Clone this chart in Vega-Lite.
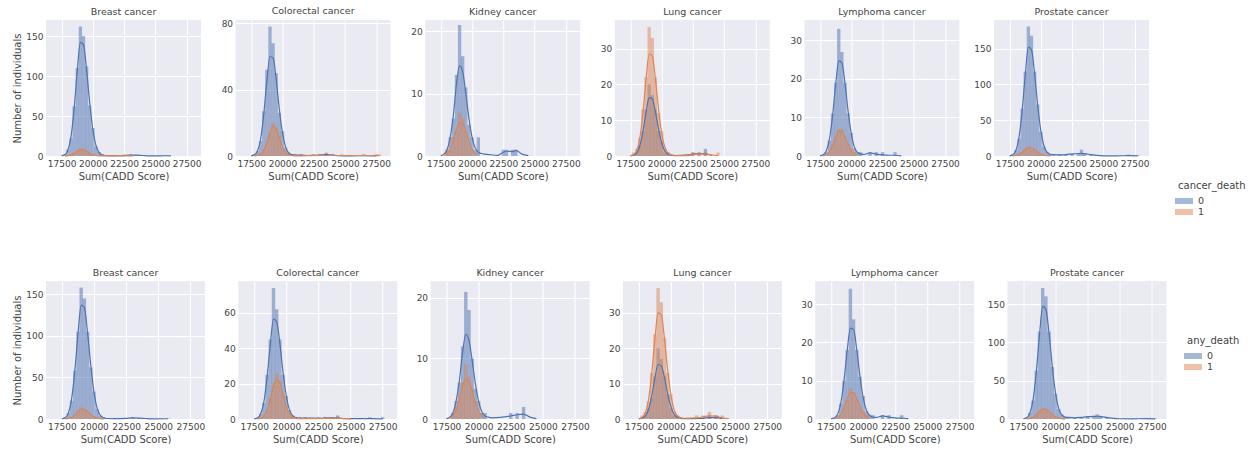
{
"$schema":"https://vega.github.io/schema/vega-lite/v6.json",
"background":"white",
"padding":{"left":12,"top":5,"right":0,"bottom":0},
"datasets":{
"a1":[{"g":0,"x":17500,"c":0,"k":0.3},{"g":0,"x":17750,"c":2,"k":1.6},{"g":0,"x":18000,"c":8,"k":7.2},{"g":0,"x":18250,"c":22,"k":24},{"g":0,"x":18500,"c":62,"k":59},{"g":0,"x":18750,"c":110,"k":106},{"g":0,"x":19000,"c":162,"k":142},{"g":0,"x":19250,"c":150,"k":139},{"g":0,"x":19500,"c":112,"k":107},{"g":0,"x":19750,"c":63,"k":66},{"g":0,"x":20000,"c":35,"k":33},{"g":0,"x":20250,"c":12,"k":13},{"g":0,"x":20500,"c":5,"k":4.3},{"g":0,"x":20750,"c":2,"k":1.4},{"g":0,"x":21000,"c":1,"k":0.6},{"g":0,"x":21500,"c":1,"k":0.5},{"g":0,"x":22000,"c":0,"k":0.3},{"g":0,"x":22500,"c":1,"k":0.8},{"g":0,"x":23000,"c":2,"k":1.2},{"g":0,"x":23500,"c":1,"k":1},{"g":0,"x":24000,"c":1,"k":0.6},{"g":0,"x":24500,"c":0,"k":0.2},{"g":0,"x":25000,"c":0,"k":0.1},{"g":0,"x":25750,"c":1,"k":0.3},{"g":0,"x":26250,"c":0,"k":0.05},
{"g":1,"x":17750,"c":0,"k":0.1},{"g":1,"x":18000,"c":1,"k":0.4},{"g":1,"x":18250,"c":2,"k":1.4},{"g":1,"x":18500,"c":4,"k":3.3},{"g":1,"x":18750,"c":7,"k":6},{"g":1,"x":19000,"c":10,"k":7.9},{"g":1,"x":19250,"c":9,"k":7.8},{"g":1,"x":19500,"c":6,"k":6},{"g":1,"x":19750,"c":4,"k":3.7},{"g":1,"x":20000,"c":2,"k":1.8},{"g":1,"x":20250,"c":1,"k":0.7},{"g":1,"x":20500,"c":0,"k":0.25},{"g":1,"x":20750,"c":0,"k":0.1},{"g":1,"x":23250,"c":1,"k":0.2}],
"a2":[{"g":0,"x":17500,"c":0,"k":0.1},{"g":0,"x":17750,"c":1,"k":0.7},{"g":0,"x":18000,"c":3,"k":3},{"g":0,"x":18250,"c":9,"k":10},{"g":0,"x":18500,"c":27,"k":25},{"g":0,"x":18750,"c":52,"k":45},{"g":0,"x":19000,"c":78,"k":60},{"g":0,"x":19250,"c":68,"k":59},{"g":0,"x":19500,"c":50,"k":46},{"g":0,"x":19750,"c":26,"k":28},{"g":0,"x":20000,"c":15,"k":14},{"g":0,"x":20250,"c":5,"k":5.5},{"g":0,"x":20500,"c":2,"k":1.8},{"g":0,"x":20750,"c":1,"k":0.8},{"g":0,"x":21000,"c":1,"k":0.5},{"g":0,"x":21500,"c":1,"k":0.5},{"g":0,"x":22000,"c":0,"k":0.3},{"g":0,"x":22500,"c":1,"k":0.4},{"g":0,"x":23000,"c":1,"k":0.5},{"g":0,"x":23500,"c":2,"k":0.8},{"g":0,"x":24000,"c":1,"k":0.6},{"g":0,"x":24500,"c":0,"k":0.2},{"g":0,"x":25500,"c":0,"k":0.1},{"g":0,"x":26500,"c":1,"k":0.2},{"g":0,"x":27500,"c":1,"k":0.1},
{"g":1,"x":17750,"c":0,"k":0.05},{"g":1,"x":18000,"c":1,"k":0.3},{"g":1,"x":18250,"c":1,"k":1.2},{"g":1,"x":18500,"c":4,"k":3.5},{"g":1,"x":18750,"c":8,"k":8},{"g":1,"x":19000,"c":14,"k":14},{"g":1,"x":19250,"c":20,"k":18},{"g":1,"x":19500,"c":17,"k":16.5},{"g":1,"x":19750,"c":12,"k":11},{"g":1,"x":20000,"c":5,"k":5.5},{"g":1,"x":20250,"c":2,"k":2.2},{"g":1,"x":20500,"c":1,"k":0.8},{"g":1,"x":20750,"c":0,"k":0.3},{"g":1,"x":21000,"c":0,"k":0.1},{"g":1,"x":23000,"c":1,"k":0.3},{"g":1,"x":24750,"c":1,"k":0.3},{"g":1,"x":27750,"c":1,"k":0.2}],
"a3":[{"g":0,"x":17500,"c":0,"k":0.05},{"g":0,"x":17750,"c":0,"k":0.3},{"g":0,"x":18000,"c":1,"k":1},{"g":0,"x":18250,"c":3,"k":3},{"g":0,"x":18500,"c":6,"k":6.5},{"g":0,"x":18750,"c":13,"k":11.5},{"g":0,"x":19000,"c":21,"k":14.5},{"g":0,"x":19250,"c":16,"k":13.5},{"g":0,"x":19500,"c":11,"k":10},{"g":0,"x":19750,"c":5,"k":6},{"g":0,"x":20000,"c":3,"k":3},{"g":0,"x":20250,"c":1,"k":1.3},{"g":0,"x":20500,"c":3,"k":0.6},{"g":0,"x":20750,"c":0,"k":0.4},{"g":0,"x":21000,"c":0,"k":0.3},{"g":0,"x":21500,"c":0,"k":0.2},{"g":0,"x":22000,"c":0,"k":0.1},{"g":0,"x":22500,"c":1,"k":0.6},{"g":0,"x":22750,"c":1,"k":0.8},{"g":0,"x":23250,"c":1,"k":0.7},{"g":0,"x":23500,"c":1,"k":0.9},{"g":0,"x":24000,"c":0,"k":0.3},{"g":0,"x":24500,"c":0,"k":0.05},
{"g":1,"x":17750,"c":0,"k":0.1},{"g":1,"x":18000,"c":1,"k":0.4},{"g":1,"x":18250,"c":1,"k":1.2},{"g":1,"x":18500,"c":3,"k":2.5},{"g":1,"x":18750,"c":4,"k":4.2},{"g":1,"x":19000,"c":7,"k":5.3},{"g":1,"x":19250,"c":6,"k":5.2},{"g":1,"x":19500,"c":4,"k":4},{"g":1,"x":19750,"c":2,"k":2.4},{"g":1,"x":20000,"c":1,"k":1.1},{"g":1,"x":20250,"c":0,"k":0.4},{"g":1,"x":20500,"c":0,"k":0.15}],
"a4":[{"g":0,"x":17500,"c":0,"k":0.05},{"g":0,"x":17750,"c":0,"k":0.2},{"g":0,"x":18000,"c":1,"k":0.8},{"g":0,"x":18250,"c":3,"k":2.8},{"g":0,"x":18500,"c":7,"k":6.8},{"g":0,"x":18750,"c":13,"k":12.2},{"g":0,"x":19000,"c":20,"k":16.3},{"g":0,"x":19250,"c":17,"k":16},{"g":0,"x":19500,"c":13,"k":12.3},{"g":0,"x":19750,"c":7,"k":7.5},{"g":0,"x":20000,"c":4,"k":3.7},{"g":0,"x":20250,"c":1,"k":1.4},{"g":0,"x":20500,"c":1,"k":0.5},{"g":0,"x":20750,"c":0,"k":0.2},{"g":0,"x":21000,"c":0,"k":0.1},{"g":0,"x":22500,"c":1,"k":0.5},{"g":0,"x":23000,"c":1,"k":0.7},{"g":0,"x":23500,"c":2,"k":0.6},{"g":0,"x":24000,"c":0,"k":0.2},
{"g":1,"x":17500,"c":0,"k":0.1},{"g":1,"x":17750,"c":1,"k":0.4},{"g":1,"x":18000,"c":2,"k":1.5},{"g":1,"x":18250,"c":5,"k":5},{"g":1,"x":18500,"c":13,"k":12},{"g":1,"x":18750,"c":22,"k":21.5},{"g":1,"x":19000,"c":36,"k":28.5},{"g":1,"x":19250,"c":33,"k":28},{"g":1,"x":19500,"c":22,"k":21.5},{"g":1,"x":19750,"c":12,"k":13},{"g":1,"x":20000,"c":7,"k":6.5},{"g":1,"x":20250,"c":2,"k":2.5},{"g":1,"x":20500,"c":1,"k":0.9},{"g":1,"x":20750,"c":0,"k":0.4},{"g":1,"x":21000,"c":0,"k":0.2},{"g":1,"x":22000,"c":0,"k":0.1},{"g":1,"x":22500,"c":1,"k":0.4},{"g":1,"x":23000,"c":1,"k":0.6},{"g":1,"x":23500,"c":1,"k":0.5},{"g":1,"x":24000,"c":0,"k":0.3},{"g":1,"x":24500,"c":1,"k":0.1}],
"a5":[{"g":0,"x":17500,"c":0,"k":0.1},{"g":0,"x":17750,"c":0,"k":0.3},{"g":0,"x":18000,"c":1,"k":1.3},{"g":0,"x":18250,"c":4,"k":4.3},{"g":0,"x":18500,"c":11,"k":10.3},{"g":0,"x":18750,"c":19,"k":18.5},{"g":0,"x":19000,"c":33,"k":24.7},{"g":0,"x":19250,"c":27,"k":24.2},{"g":0,"x":19500,"c":19,"k":18.8},{"g":0,"x":19750,"c":11,"k":11.5},{"g":0,"x":20000,"c":6,"k":5.8},{"g":0,"x":20250,"c":2,"k":2.3},{"g":0,"x":20500,"c":1,"k":0.9},{"g":0,"x":20750,"c":1,"k":0.5},{"g":0,"x":21000,"c":0,"k":0.4},{"g":0,"x":21500,"c":1,"k":0.8},{"g":0,"x":22000,"c":1,"k":0.5},{"g":0,"x":22500,"c":1,"k":0.3},{"g":0,"x":23000,"c":0,"k":0.2},{"g":0,"x":23500,"c":1,"k":0.2},{"g":0,"x":24000,"c":0,"k":0.05},
{"g":1,"x":17750,"c":0,"k":0.05},{"g":1,"x":18000,"c":0,"k":0.3},{"g":1,"x":18250,"c":1,"k":1.1},{"g":1,"x":18500,"c":3,"k":2.7},{"g":1,"x":18750,"c":5,"k":4.8},{"g":1,"x":19000,"c":7,"k":6.4},{"g":1,"x":19250,"c":7,"k":6.3},{"g":1,"x":19500,"c":5,"k":4.9},{"g":1,"x":19750,"c":3,"k":3},{"g":1,"x":20000,"c":2,"k":1.5},{"g":1,"x":20250,"c":1,"k":0.6},{"g":1,"x":20500,"c":0,"k":0.2}],
"a6":[{"g":0,"x":17500,"c":0,"k":0.3},{"g":0,"x":17750,"c":2,"k":1.7},{"g":0,"x":18000,"c":8,"k":7.7},{"g":0,"x":18250,"c":24,"k":26},{"g":0,"x":18500,"c":66,"k":63},{"g":0,"x":18750,"c":118,"k":113},{"g":0,"x":19000,"c":181,"k":152},{"g":0,"x":19250,"c":168,"k":148},{"g":0,"x":19500,"c":118,"k":115},{"g":0,"x":19750,"c":72,"k":70},{"g":0,"x":20000,"c":34,"k":35},{"g":0,"x":20250,"c":13,"k":14},{"g":0,"x":20500,"c":6,"k":5},{"g":0,"x":20750,"c":3,"k":2.5},{"g":0,"x":21000,"c":2,"k":2},{"g":0,"x":21500,"c":2,"k":1.5},{"g":0,"x":22000,"c":2,"k":2},{"g":0,"x":22500,"c":3,"k":3},{"g":0,"x":23000,"c":4,"k":3.5},{"g":0,"x":23250,"c":9,"k":3.6},{"g":0,"x":23500,"c":4,"k":3.2},{"g":0,"x":24000,"c":2,"k":2},{"g":0,"x":24500,"c":1,"k":0.8},{"g":0,"x":25000,"c":0,"k":0.3},{"g":0,"x":26000,"c":0,"k":0.2},{"g":0,"x":27000,"c":2,"k":0.5},{"g":0,"x":27750,"c":1,"k":0.3},
{"g":1,"x":17750,"c":0,"k":0.2},{"g":1,"x":18000,"c":1,"k":0.7},{"g":1,"x":18250,"c":2,"k":2},{"g":1,"x":18500,"c":5,"k":5},{"g":1,"x":18750,"c":10,"k":9},{"g":1,"x":19000,"c":13,"k":11.8},{"g":1,"x":19250,"c":12,"k":11.5},{"g":1,"x":19500,"c":9,"k":9},{"g":1,"x":19750,"c":5,"k":5.5},{"g":1,"x":20000,"c":3,"k":2.7},{"g":1,"x":20250,"c":1,"k":1.1},{"g":1,"x":20500,"c":0,"k":0.4},{"g":1,"x":20750,"c":0,"k":0.1}],
"b1":[{"g":0,"x":17500,"c":0,"k":0.3},{"g":0,"x":17750,"c":2,"k":1.5},{"g":0,"x":18000,"c":7,"k":7},{"g":0,"x":18250,"c":22,"k":23.5},{"g":0,"x":18500,"c":58,"k":57},{"g":0,"x":18750,"c":105,"k":102},{"g":0,"x":19000,"c":158,"k":137},{"g":0,"x":19250,"c":145,"k":134},{"g":0,"x":19500,"c":105,"k":103},{"g":0,"x":19750,"c":62,"k":64},{"g":0,"x":20000,"c":33,"k":32},{"g":0,"x":20250,"c":12,"k":12.5},{"g":0,"x":20500,"c":4,"k":4.2},{"g":0,"x":20750,"c":2,"k":1.5},{"g":0,"x":21000,"c":1,"k":0.6},{"g":0,"x":21500,"c":1,"k":0.5},{"g":0,"x":22500,"c":1,"k":0.8},{"g":0,"x":23000,"c":2,"k":1.3},{"g":0,"x":23500,"c":1,"k":1.1},{"g":0,"x":24000,"c":1,"k":0.6},{"g":0,"x":24500,"c":0,"k":0.2},{"g":0,"x":25750,"c":1,"k":0.3},
{"g":1,"x":17750,"c":0,"k":0.2},{"g":1,"x":18000,"c":1,"k":0.7},{"g":1,"x":18250,"c":2,"k":2},{"g":1,"x":18500,"c":5,"k":5},{"g":1,"x":18750,"c":10,"k":9.2},{"g":1,"x":19000,"c":14,"k":12},{"g":1,"x":19250,"c":12,"k":11.5},{"g":1,"x":19500,"c":9,"k":8.8},{"g":1,"x":19750,"c":5,"k":5.4},{"g":1,"x":20000,"c":3,"k":2.7},{"g":1,"x":20250,"c":1,"k":1.1},{"g":1,"x":20500,"c":0,"k":0.4},{"g":1,"x":20750,"c":0,"k":0.1}],
"b2":[{"g":0,"x":17500,"c":0,"k":0.1},{"g":0,"x":17750,"c":1,"k":0.6},{"g":0,"x":18000,"c":3,"k":2.8},{"g":0,"x":18250,"c":9,"k":9.5},{"g":0,"x":18500,"c":25,"k":23.5},{"g":0,"x":18750,"c":45,"k":42},{"g":0,"x":19000,"c":74,"k":56.5},{"g":0,"x":19250,"c":62,"k":55},{"g":0,"x":19500,"c":45,"k":42.5},{"g":0,"x":19750,"c":25,"k":26},{"g":0,"x":20000,"c":13,"k":13},{"g":0,"x":20250,"c":5,"k":5},{"g":0,"x":20500,"c":2,"k":1.8},{"g":0,"x":20750,"c":1,"k":0.8},{"g":0,"x":21000,"c":1,"k":0.5},{"g":0,"x":21500,"c":1,"k":0.5},{"g":0,"x":22500,"c":1,"k":0.4},{"g":0,"x":23000,"c":1,"k":0.5},{"g":0,"x":23500,"c":1,"k":0.7},{"g":0,"x":24000,"c":2,"k":0.6},{"g":0,"x":24500,"c":0,"k":0.2},{"g":0,"x":26500,"c":1,"k":0.2},{"g":0,"x":27500,"c":1,"k":0.1},
{"g":1,"x":17750,"c":0,"k":0.1},{"g":1,"x":18000,"c":1,"k":0.5},{"g":1,"x":18250,"c":2,"k":1.8},{"g":1,"x":18500,"c":5,"k":5},{"g":1,"x":18750,"c":12,"k":11},{"g":1,"x":19000,"c":20,"k":18.5},{"g":1,"x":19250,"c":26,"k":22.5},{"g":1,"x":19500,"c":21,"k":20.5},{"g":1,"x":19750,"c":14,"k":14},{"g":1,"x":20000,"c":7,"k":7},{"g":1,"x":20250,"c":3,"k":2.8},{"g":1,"x":20500,"c":1,"k":1},{"g":1,"x":20750,"c":0,"k":0.4},{"g":1,"x":21000,"c":0,"k":0.2},{"g":1,"x":23000,"c":1,"k":0.3},{"g":1,"x":24000,"c":1,"k":0.3},{"g":1,"x":25000,"c":0,"k":0.1}],
"b3":[{"g":0,"x":17500,"c":0,"k":0.05},{"g":0,"x":17750,"c":0,"k":0.3},{"g":0,"x":18000,"c":1,"k":1},{"g":0,"x":18250,"c":3,"k":3},{"g":0,"x":18500,"c":6,"k":6.3},{"g":0,"x":18750,"c":12,"k":11},{"g":0,"x":19000,"c":21,"k":14},{"g":0,"x":19250,"c":18,"k":13},{"g":0,"x":19500,"c":10,"k":9.6},{"g":0,"x":19750,"c":5,"k":5.8},{"g":0,"x":20000,"c":3,"k":2.9},{"g":0,"x":20250,"c":1,"k":1.2},{"g":0,"x":20500,"c":1,"k":0.5},{"g":0,"x":20750,"c":0,"k":0.3},{"g":0,"x":21000,"c":0,"k":0.2},{"g":0,"x":22500,"c":1,"k":0.5},{"g":0,"x":23000,"c":1,"k":0.7},{"g":0,"x":23500,"c":2,"k":0.8},{"g":0,"x":24000,"c":0,"k":0.3},{"g":0,"x":24500,"c":0,"k":0.05},
{"g":1,"x":17750,"c":0,"k":0.1},{"g":1,"x":18000,"c":1,"k":0.5},{"g":1,"x":18250,"c":2,"k":1.5},{"g":1,"x":18500,"c":4,"k":3.3},{"g":1,"x":18750,"c":6,"k":5.4},{"g":1,"x":19000,"c":9,"k":6.6},{"g":1,"x":19250,"c":7,"k":6.2},{"g":1,"x":19500,"c":5,"k":4.6},{"g":1,"x":19750,"c":3,"k":2.7},{"g":1,"x":20000,"c":1,"k":1.3},{"g":1,"x":20250,"c":0,"k":0.5},{"g":1,"x":20500,"c":0,"k":0.2}],
"b4":[{"g":0,"x":17500,"c":0,"k":0.05},{"g":0,"x":17750,"c":0,"k":0.2},{"g":0,"x":18000,"c":1,"k":0.8},{"g":0,"x":18250,"c":3,"k":2.6},{"g":0,"x":18500,"c":6,"k":6.4},{"g":0,"x":18750,"c":12,"k":11.5},{"g":0,"x":19000,"c":20,"k":15.4},{"g":0,"x":19250,"c":17,"k":15},{"g":0,"x":19500,"c":12,"k":11.6},{"g":0,"x":19750,"c":7,"k":7},{"g":0,"x":20000,"c":3,"k":3.5},{"g":0,"x":20250,"c":1,"k":1.3},{"g":0,"x":20500,"c":1,"k":0.5},{"g":0,"x":20750,"c":0,"k":0.2},{"g":0,"x":21000,"c":0,"k":0.1},{"g":0,"x":22500,"c":0,"k":0.2},{"g":0,"x":23000,"c":1,"k":0.4},{"g":0,"x":23500,"c":1,"k":0.4},{"g":0,"x":24000,"c":0,"k":0.1},
{"g":1,"x":17500,"c":0,"k":0.1},{"g":1,"x":17750,"c":1,"k":0.5},{"g":1,"x":18000,"c":2,"k":1.7},{"g":1,"x":18250,"c":5,"k":5.3},{"g":1,"x":18500,"c":13,"k":12.6},{"g":1,"x":18750,"c":24,"k":22.5},{"g":1,"x":19000,"c":37,"k":30},{"g":1,"x":19250,"c":33,"k":29.5},{"g":1,"x":19500,"c":23,"k":22.5},{"g":1,"x":19750,"c":13,"k":13.7},{"g":1,"x":20000,"c":7,"k":6.8},{"g":1,"x":20250,"c":2,"k":2.6},{"g":1,"x":20500,"c":1,"k":0.9},{"g":1,"x":20750,"c":0,"k":0.4},{"g":1,"x":21000,"c":0,"k":0.2},{"g":1,"x":22000,"c":1,"k":0.3},{"g":1,"x":22500,"c":1,"k":0.6},{"g":1,"x":23000,"c":2,"k":0.9},{"g":1,"x":23500,"c":1,"k":0.8},{"g":1,"x":24000,"c":1,"k":0.3},{"g":1,"x":24500,"c":0,"k":0.1}],
"b5":[{"g":0,"x":17500,"c":0,"k":0.1},{"g":0,"x":17750,"c":0,"k":0.3},{"g":0,"x":18000,"c":1,"k":1.2},{"g":0,"x":18250,"c":4,"k":4.1},{"g":0,"x":18500,"c":10,"k":9.9},{"g":0,"x":18750,"c":18,"k":17.8},{"g":0,"x":19000,"c":34,"k":23.7},{"g":0,"x":19250,"c":26,"k":23.3},{"g":0,"x":19500,"c":18,"k":18},{"g":0,"x":19750,"c":11,"k":11},{"g":0,"x":20000,"c":6,"k":5.5},{"g":0,"x":20250,"c":2,"k":2.2},{"g":0,"x":20500,"c":1,"k":0.9},{"g":0,"x":20750,"c":1,"k":0.5},{"g":0,"x":21000,"c":0,"k":0.4},{"g":0,"x":21500,"c":1,"k":0.8},{"g":0,"x":22000,"c":1,"k":0.5},{"g":0,"x":22500,"c":0,"k":0.3},{"g":0,"x":23000,"c":1,"k":0.2},{"g":0,"x":23500,"c":0,"k":0.1},
{"g":1,"x":17750,"c":0,"k":0.05},{"g":1,"x":18000,"c":0,"k":0.3},{"g":1,"x":18250,"c":1,"k":1.2},{"g":1,"x":18500,"c":3,"k":2.9},{"g":1,"x":18750,"c":5,"k":5.2},{"g":1,"x":19000,"c":8,"k":6.9},{"g":1,"x":19250,"c":7,"k":6.8},{"g":1,"x":19500,"c":5,"k":5.3},{"g":1,"x":19750,"c":3,"k":3.2},{"g":1,"x":20000,"c":2,"k":1.6},{"g":1,"x":20250,"c":1,"k":0.6},{"g":1,"x":20500,"c":0,"k":0.2}],
"b6":[{"g":0,"x":17500,"c":0,"k":0.3},{"g":0,"x":17750,"c":2,"k":1.6},{"g":0,"x":18000,"c":8,"k":7.4},{"g":0,"x":18250,"c":24,"k":25},{"g":0,"x":18500,"c":63,"k":61},{"g":0,"x":18750,"c":114,"k":109},{"g":0,"x":19000,"c":171,"k":147},{"g":0,"x":19250,"c":160,"k":143},{"g":0,"x":19500,"c":114,"k":111},{"g":0,"x":19750,"c":68,"k":68},{"g":0,"x":20000,"c":33,"k":34},{"g":0,"x":20250,"c":13,"k":13.5},{"g":0,"x":20500,"c":6,"k":5},{"g":0,"x":20750,"c":3,"k":2.5},{"g":0,"x":21000,"c":2,"k":2},{"g":0,"x":21500,"c":2,"k":1.5},{"g":0,"x":22000,"c":2,"k":2},{"g":0,"x":22500,"c":3,"k":3},{"g":0,"x":23000,"c":4,"k":3.5},{"g":0,"x":23250,"c":6,"k":3.6},{"g":0,"x":23500,"c":4,"k":3.2},{"g":0,"x":24000,"c":2,"k":2},{"g":0,"x":24500,"c":1,"k":0.8},{"g":0,"x":25000,"c":0,"k":0.3},{"g":0,"x":26000,"c":0,"k":0.2},{"g":0,"x":27000,"c":1,"k":0.5},{"g":0,"x":27750,"c":1,"k":0.2},
{"g":1,"x":17750,"c":0,"k":0.2},{"g":1,"x":18000,"c":1,"k":0.8},{"g":1,"x":18250,"c":2,"k":2.2},{"g":1,"x":18500,"c":6,"k":5.4},{"g":1,"x":18750,"c":11,"k":9.7},{"g":1,"x":19000,"c":14,"k":12.8},{"g":1,"x":19250,"c":13,"k":12.5},{"g":1,"x":19500,"c":10,"k":9.7},{"g":1,"x":19750,"c":6,"k":6},{"g":1,"x":20000,"c":3,"k":2.9},{"g":1,"x":20250,"c":1,"k":1.2},{"g":1,"x":20500,"c":0,"k":0.4},{"g":1,"x":20750,"c":0,"k":0.1}]
},
"vconcat":[
{"hconcat":[
{"title":"Breast cancer","data":{"name":"a1"},"width":155,"height":136,
"encoding":{"x":{"field":"x","type":"quantitative","scale":{"domain":[16650,28250],"nice":false,"zero":false},"axis":{"values":[17500,20000,22500,25000,27500],"format":"d","title":"Sum(CADD Score)"}},
"color":{"field":"g","type":"nominal","title":"cancer_death","scale":{"domain":[0,1],"range":["#4c72b0","#dd8452"]},"legend":{"legendX":1132,"legendY":161}}},
"layer":[{"mark":{"type":"bar","orient":"vertical","size":3.3,"opacity":0.5},"encoding":{"y":{"field":"c","type":"quantitative","stack":null,"title":"Number of individuals","scale":{"domain":[0,170],"nice":false},"axis":{"values":[0,25,50,75,100,125,150]}}}},
{"mark":{"type":"line","interpolate":"monotone","strokeWidth":1.2},"encoding":{"y":{"field":"k","type":"quantitative","title":"Number of individuals"}}}]},
{"title":"Colorectal cancer","data":{"name":"a2"},"width":155,"height":136,
"encoding":{"x":{"field":"x","type":"quantitative","scale":{"domain":[16650,28250],"nice":false,"zero":false},"axis":{"values":[17500,20000,22500,25000,27500],"format":"d","title":"Sum(CADD Score)"}},
"color":{"field":"g","type":"nominal","title":"cancer_death","scale":{"domain":[0,1],"range":["#4c72b0","#dd8452"]}}},
"layer":[{"mark":{"type":"bar","orient":"vertical","size":3.3,"opacity":0.5},"encoding":{"y":{"field":"c","type":"quantitative","stack":null,"title":null,"scale":{"domain":[0,82],"nice":false},"axis":{"values":[0,20,40,60,80]}}}},
{"mark":{"type":"line","interpolate":"monotone","strokeWidth":1.2},"encoding":{"y":{"field":"k","type":"quantitative","title":null}}}]},
{"title":"Kidney cancer","data":{"name":"a3"},"width":155,"height":136,
"encoding":{"x":{"field":"x","type":"quantitative","scale":{"domain":[16650,28250],"nice":false,"zero":false},"axis":{"values":[17500,20000,22500,25000,27500],"format":"d","title":"Sum(CADD Score)"}},
"color":{"field":"g","type":"nominal","title":"cancer_death","scale":{"domain":[0,1],"range":["#4c72b0","#dd8452"]}}},
"layer":[{"mark":{"type":"bar","orient":"vertical","size":3.3,"opacity":0.5},"encoding":{"y":{"field":"c","type":"quantitative","stack":null,"title":null,"scale":{"domain":[0,21.8],"nice":false},"axis":{"values":[0,5,10,15,20]}}}},
{"mark":{"type":"line","interpolate":"monotone","strokeWidth":1.2},"encoding":{"y":{"field":"k","type":"quantitative","title":null}}}]},
{"title":"Lung cancer","data":{"name":"a4"},"width":155,"height":136,
"encoding":{"x":{"field":"x","type":"quantitative","scale":{"domain":[16650,28250],"nice":false,"zero":false},"axis":{"values":[17500,20000,22500,25000,27500],"format":"d","title":"Sum(CADD Score)"}},
"color":{"field":"g","type":"nominal","title":"cancer_death","scale":{"domain":[0,1],"range":["#4c72b0","#dd8452"]}}},
"layer":[{"mark":{"type":"bar","orient":"vertical","size":3.3,"opacity":0.5},"encoding":{"y":{"field":"c","type":"quantitative","stack":null,"title":null,"scale":{"domain":[0,38],"nice":false},"axis":{"values":[0,10,20,30]}}}},
{"mark":{"type":"line","interpolate":"monotone","strokeWidth":1.2},"encoding":{"y":{"field":"k","type":"quantitative","title":null}}}]},
{"title":"Lymphoma cancer","data":{"name":"a5"},"width":155,"height":136,
"encoding":{"x":{"field":"x","type":"quantitative","scale":{"domain":[16650,28250],"nice":false,"zero":false},"axis":{"values":[17500,20000,22500,25000,27500],"format":"d","title":"Sum(CADD Score)"}},
"color":{"field":"g","type":"nominal","title":"cancer_death","scale":{"domain":[0,1],"range":["#4c72b0","#dd8452"]}}},
"layer":[{"mark":{"type":"bar","orient":"vertical","size":3.3,"opacity":0.5},"encoding":{"y":{"field":"c","type":"quantitative","stack":null,"title":null,"scale":{"domain":[0,35.3],"nice":false},"axis":{"values":[0,10,20,30]}}}},
{"mark":{"type":"line","interpolate":"monotone","strokeWidth":1.2},"encoding":{"y":{"field":"k","type":"quantitative","title":null}}}]},
{"title":"Prostate cancer","data":{"name":"a6"},"width":155,"height":136,
"encoding":{"x":{"field":"x","type":"quantitative","scale":{"domain":[16650,28250],"nice":false,"zero":false},"axis":{"values":[17500,20000,22500,25000,27500],"format":"d","title":"Sum(CADD Score)"}},
"color":{"field":"g","type":"nominal","title":"cancer_death","scale":{"domain":[0,1],"range":["#4c72b0","#dd8452"]}}},
"layer":[{"mark":{"type":"bar","orient":"vertical","size":3.3,"opacity":0.5},"encoding":{"y":{"field":"c","type":"quantitative","stack":null,"title":null,"scale":{"domain":[0,190],"nice":false},"axis":{"values":[0,50,100,150]}}}},
{"mark":{"type":"line","interpolate":"monotone","strokeWidth":1.2},"encoding":{"y":{"field":"k","type":"quantitative","title":null}}}]}
],"spacing":34.6,"bounds":"flush","resolve":{"scale":{"x":"independent","y":"independent","color":"shared"}}},
{"hconcat":[
{"title":"Breast cancer","data":{"name":"b1"},"width":159,"height":138,
"encoding":{"x":{"field":"x","type":"quantitative","scale":{"domain":[16650,28250],"nice":false,"zero":false},"axis":{"values":[17500,20000,22500,25000,27500],"format":"d","title":"Sum(CADD Score)"}},
"color":{"field":"g","type":"nominal","title":"any_death","scale":{"domain":[0,1],"range":["#4c72b0","#dd8452"]},"legend":{"legendX":1141,"legendY":55}}},
"layer":[{"mark":{"type":"bar","orient":"vertical","size":3.4,"opacity":0.5},"encoding":{"y":{"field":"c","type":"quantitative","stack":null,"title":"Number of individuals","scale":{"domain":[0,166],"nice":false},"axis":{"values":[0,25,50,75,100,125,150]}}}},
{"mark":{"type":"line","interpolate":"monotone","strokeWidth":1.2},"encoding":{"y":{"field":"k","type":"quantitative","title":"Number of individuals"}}}]},
{"title":"Colorectal cancer","data":{"name":"b2"},"width":159,"height":138,
"encoding":{"x":{"field":"x","type":"quantitative","scale":{"domain":[16650,28250],"nice":false,"zero":false},"axis":{"values":[17500,20000,22500,25000,27500],"format":"d","title":"Sum(CADD Score)"}},
"color":{"field":"g","type":"nominal","title":"any_death","scale":{"domain":[0,1],"range":["#4c72b0","#dd8452"]}}},
"layer":[{"mark":{"type":"bar","orient":"vertical","size":3.4,"opacity":0.5},"encoding":{"y":{"field":"c","type":"quantitative","stack":null,"title":null,"scale":{"domain":[0,78],"nice":false},"axis":{"values":[0,20,40,60]}}}},
{"mark":{"type":"line","interpolate":"monotone","strokeWidth":1.2},"encoding":{"y":{"field":"k","type":"quantitative","title":null}}}]},
{"title":"Kidney cancer","data":{"name":"b3"},"width":159,"height":138,
"encoding":{"x":{"field":"x","type":"quantitative","scale":{"domain":[16650,28250],"nice":false,"zero":false},"axis":{"values":[17500,20000,22500,25000,27500],"format":"d","title":"Sum(CADD Score)"}},
"color":{"field":"g","type":"nominal","title":"any_death","scale":{"domain":[0,1],"range":["#4c72b0","#dd8452"]}}},
"layer":[{"mark":{"type":"bar","orient":"vertical","size":3.4,"opacity":0.5},"encoding":{"y":{"field":"c","type":"quantitative","stack":null,"title":null,"scale":{"domain":[0,22.8],"nice":false},"axis":{"values":[0,5,10,15,20]}}}},
{"mark":{"type":"line","interpolate":"monotone","strokeWidth":1.2},"encoding":{"y":{"field":"k","type":"quantitative","title":null}}}]},
{"title":"Lung cancer","data":{"name":"b4"},"width":159,"height":138,
"encoding":{"x":{"field":"x","type":"quantitative","scale":{"domain":[16650,28250],"nice":false,"zero":false},"axis":{"values":[17500,20000,22500,25000,27500],"format":"d","title":"Sum(CADD Score)"}},
"color":{"field":"g","type":"nominal","title":"any_death","scale":{"domain":[0,1],"range":["#4c72b0","#dd8452"]}}},
"layer":[{"mark":{"type":"bar","orient":"vertical","size":3.4,"opacity":0.5},"encoding":{"y":{"field":"c","type":"quantitative","stack":null,"title":null,"scale":{"domain":[0,39],"nice":false},"axis":{"values":[0,10,20,30]}}}},
{"mark":{"type":"line","interpolate":"monotone","strokeWidth":1.2},"encoding":{"y":{"field":"k","type":"quantitative","title":null}}}]},
{"title":"Lymphoma cancer","data":{"name":"b5"},"width":159,"height":138,
"encoding":{"x":{"field":"x","type":"quantitative","scale":{"domain":[16650,28250],"nice":false,"zero":false},"axis":{"values":[17500,20000,22500,25000,27500],"format":"d","title":"Sum(CADD Score)"}},
"color":{"field":"g","type":"nominal","title":"any_death","scale":{"domain":[0,1],"range":["#4c72b0","#dd8452"]}}},
"layer":[{"mark":{"type":"bar","orient":"vertical","size":3.4,"opacity":0.5},"encoding":{"y":{"field":"c","type":"quantitative","stack":null,"title":null,"scale":{"domain":[0,36],"nice":false},"axis":{"values":[0,10,20,30]}}}},
{"mark":{"type":"line","interpolate":"monotone","strokeWidth":1.2},"encoding":{"y":{"field":"k","type":"quantitative","title":null}}}]},
{"title":"Prostate cancer","data":{"name":"b6"},"width":159,"height":138,
"encoding":{"x":{"field":"x","type":"quantitative","scale":{"domain":[16650,28250],"nice":false,"zero":false},"axis":{"values":[17500,20000,22500,25000,27500],"format":"d","title":"Sum(CADD Score)"}},
"color":{"field":"g","type":"nominal","title":"any_death","scale":{"domain":[0,1],"range":["#4c72b0","#dd8452"]}}},
"layer":[{"mark":{"type":"bar","orient":"vertical","size":3.4,"opacity":0.5},"encoding":{"y":{"field":"c","type":"quantitative","stack":null,"title":null,"scale":{"domain":[0,180],"nice":false},"axis":{"values":[0,50,100,150]}}}},
{"mark":{"type":"line","interpolate":"monotone","strokeWidth":1.2},"encoding":{"y":{"field":"k","type":"quantitative","title":null}}}]}
],"spacing":33.3,"bounds":"flush","resolve":{"scale":{"x":"independent","y":"independent","color":"shared"}}}
],
"spacing":261,
"bounds":"flush",
"resolve":{"scale":{"color":"independent"},"legend":{"color":"independent"}},
"config":{
"font":"DejaVu Sans",
"view":{"fill":"#eaeaf2","stroke":null},
"axis":{"domain":false,"ticks":false,"gridColor":"#ffffff","gridWidth":1,"labelFont":"DejaVu Sans","titleFont":"DejaVu Sans","labelFontSize":9,"labelColor":"#444444","titleFont":"DejaVu Sans","titleFontSize":10,"titleFontWeight":"normal","titleColor":"#444444","labelPadding":3,"titlePadding":3,"labelOverlap":false},
"title":{"font":"DejaVu Sans","fontSize":9.5,"fontWeight":"normal","color":"#444444","offset":4},
"legend":{"orient":"none","titleFont":"DejaVu Sans","labelFont":"DejaVu Sans","titleFontSize":10,"titleFontWeight":"normal","titleColor":"#444444","labelFontSize":9.5,"labelColor":"#444444","symbolType":"M-1.5,-0.5H1.5V0.5H-1.5Z","symbolSize":144,"symbolOpacity":0.5,"symbolStrokeWidth":0,"rowPadding":0,"titlePadding":4,"labelOffset":8}
}
}
